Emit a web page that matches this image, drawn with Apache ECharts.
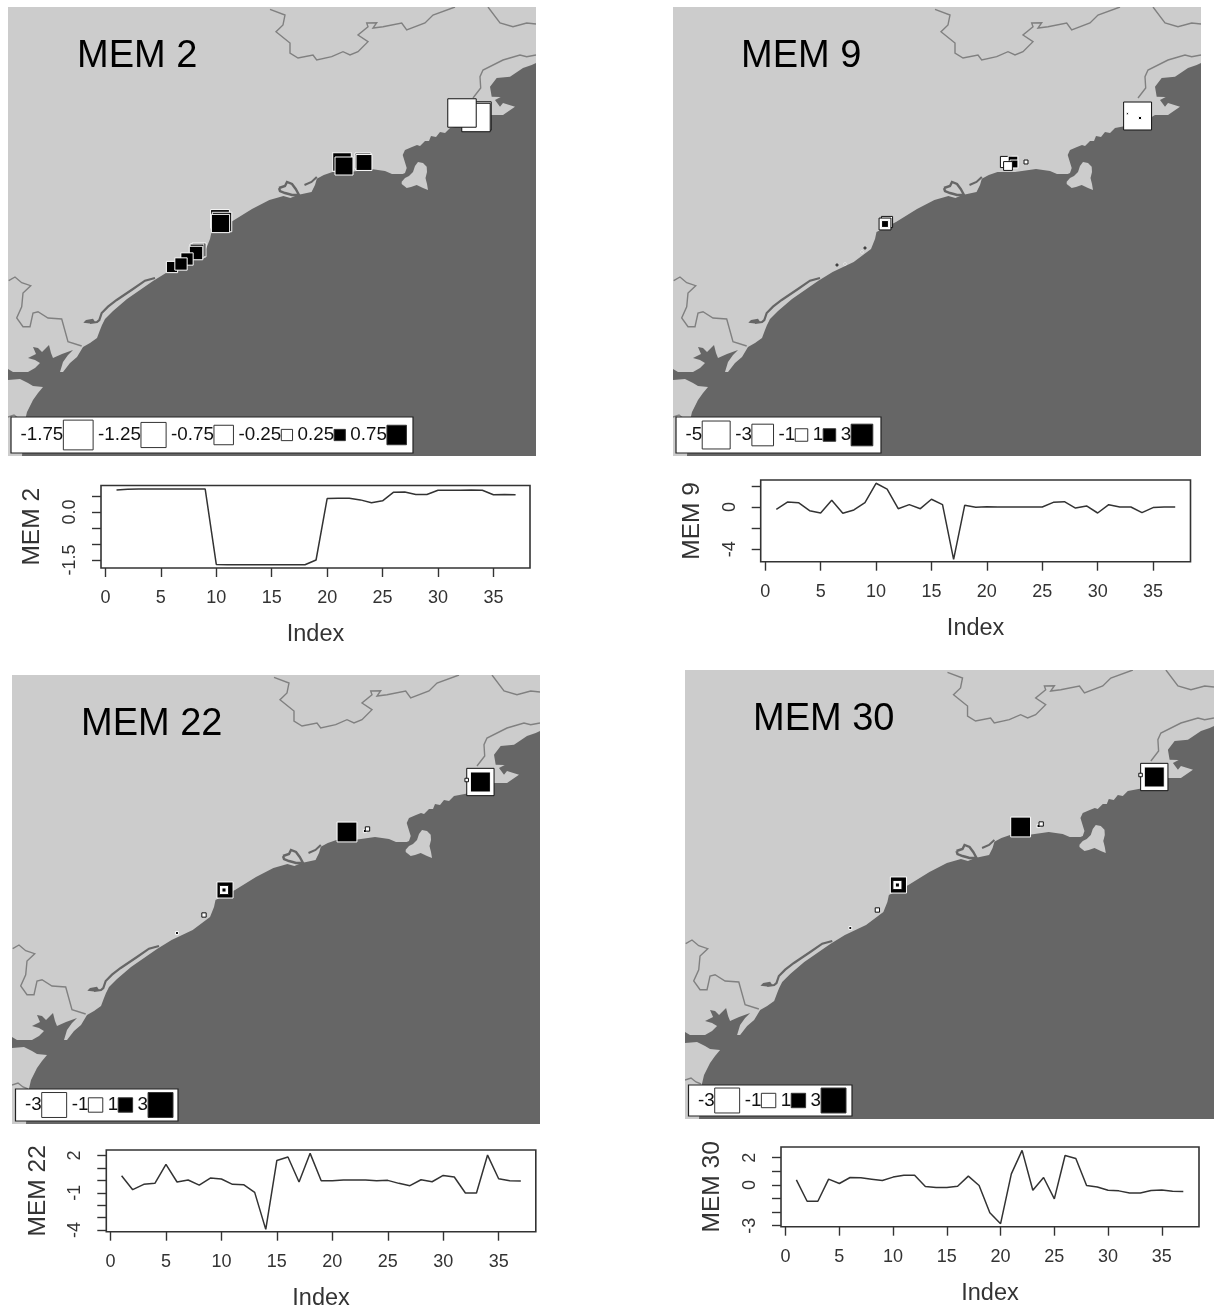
<!DOCTYPE html>
<html>
<head>
<meta charset="utf-8">
<title>MEM maps</title>
<style>html,body{margin:0;padding:0;background:#fff}#chart{width:1215px;height:1308px;filter:blur(0.4px)}</style>
<script src="https://cdn.jsdelivr.net/npm/echarts@6/dist/echarts.min.js"></script>
</head>
<body>
<div id="chart"></div>
<script>
// ---------- series ----------
const indexValues = [1,2,3,4,5,6,7,8,9,10,11,12,13,14,15,16,17,18,19,20,21,22,23,24,25,26,27,28,29,30,31,32,33,34,35,36,37];
const mem2Values = [0.69,0.71,0.72,0.72,0.72,0.72,0.72,0.72,0.72,-1.64,-1.65,-1.65,-1.65,-1.65,-1.65,-1.65,-1.65,-1.65,-1.5,0.42,0.43,0.43,0.38,0.29,0.35,0.62,0.63,0.55,0.55,0.68,0.68,0.68,0.69,0.68,0.54,0.55,0.54];
const mem9Values = [-0.22,0.47,0.41,-0.35,-0.57,0.63,-0.6,-0.28,0.41,2.25,1.7,-0.16,0.22,-0.16,0.73,0.22,-4.97,0.16,-0.03,0.03,0,0,0,0,0,0.44,0.5,-0.1,0.1,-0.57,0.22,0,0,-0.54,-0.06,0,0];
const mem22Values = [0.38,-0.75,-0.32,-0.24,1.29,-0.13,0.03,-0.38,0.19,0.11,-0.32,-0.35,-0.97,-3.95,1.61,1.88,-0.13,2.18,-0.03,-0.03,0.03,0.03,0.03,-0.03,0,-0.24,-0.43,0.05,-0.11,0.4,0.27,-1.02,-1.02,2.04,0.13,-0.03,-0.05];
const mem30Values = [0.37,-1.2,-1.2,0.42,0.1,0.54,0.52,0.42,0.32,0.57,0.71,0.71,-0.12,-0.2,-0.2,-0.1,0.64,-0.05,-2.04,-2.85,0.81,2.53,-0.39,0.54,-1.03,2.16,1.94,-0.05,-0.15,-0.39,-0.44,-0.59,-0.59,-0.42,-0.37,-0.47,-0.49];

// ---------- tick labels ----------
const xTicks = [0,5,10,15,20,25,30,35];
const mem2YTicks = [-1.5,-1,-0.5,0,0.5];
const mem2YLabels = [-1.5,0];
const mem9YTicks = [-4,-2,0,2];
const mem9YLabels = [-4,0];
const mem22YTicks = [-4,-3,-2,-1,0,1,2];
const mem22YLabels = [-4,-1,2];
const mem30YTicks = [-3,-2,-1,0,1,2];
const mem30YLabels = [-3,0,2];

// ---------- legend values ----------
const mem2Legend = [-1.75,-1.25,-0.75,-0.25,0.25,0.75];
const mem9Legend = [-5,-3,-1,1,3];
const mem22Legend = [-3,-1,1,3];
const mem30Legend = [-3,-1,1,3];

// ---------- site values on the map: [x, y, value] in map units ----------
const mem2Sites = [[477,116,-1.6],[476,117.5,-1.6],[462,113,-1.6],[342,162,0.68],[344,166,0.64],[363,161,0.5],[364,162.5,0.5],[220,219,0.7],[222,222,0.75],[220.5,223.5,0.66],[199,250,0.38],[197,251,0.38],[196,253,0.36],[187,259,0.3],[172,267,0.25],[181,264,0.3]];
const mem9Sites = [[472.6,116,-5],[475,118,0.06],[462.4,113.7,0.03],[341,162,-0.8],[348,161,0.6],[349,164,0.4],[343,166,-0.5],[361,162,-0.1],[222,222,-0.8],[220,224,-0.9],[220,224,0.3],[200,248,-0.02],[197,252,0.02],[180,264,0.02],[172,265,-0.02]];
const mem22Sites = [[476.4,114,-3.6],[476.4,114,1.93],[462.7,112,-0.06],[343,164,1.9],[361,163,0.05],[363.5,161,-0.09],[221,222,1.25],[220,222,-0.4],[220,222,0.08],[200,247,-0.09],[173,265,0.04]];
const mem30Sites = [[476.4,114,-3.6],[476.4,114,1.93],[462.7,112,-0.06],[343,164,1.9],[361,163,0.05],[363.5,161,-0.09],[221,222,1.25],[220,222,-0.4],[220,222,0.08],[200,247,-0.09],[173,265,0.04]];

// ---------- map outlines in map units ----------
const seaOutline = [[22,456],[24,425],[27,412],[33,400],[38,393],[43,387],[33,386],[28,383],[20,379],[8,380],[8,369],[13,372],[20,372],[28,372],[35,368],[40,363],[35,360],[28,358],[36,354],[33,347],[38,348],[42,352],[47,347],[49,345],[51,353],[53,358],[62,354],[73,350],[68,355],[63,362],[60,372],[63,372],[70,363],[77,357],[83,347],[90,343],[97,338],[100,330],[102,325],[105,319],[113,311],[127,299],[140,290],[153,281],[167.6,272],[188.7,262],[206,249],[210,239],[211.5,232],[231,222],[252,209],[269.4,200],[283.4,196],[290.4,198],[297.5,195],[311.5,192],[315,185],[316.8,178.7],[323.8,175],[332.5,172],[350,172],[371,169],[385,171],[392,174],[402.7,174],[405,173],[406.7,168],[402.7,155],[405,150],[412,147],[417,145],[420,146],[425,141],[429,141],[431,136],[436,137],[440,132],[445,133],[450,128],[476.7,123],[490,115],[503,115],[515,106.7],[503,103],[500,106.7],[495,100],[500.7,97],[491.7,96.7],[490,86.7],[496.7,78],[510,76.7],[523,68],[531.7,65],[536,63],[536,456]];
const berreIsland = [[401.7,181.7],[405,178],[409,176],[413,172],[415,166],[418,162],[423,163],[426.7,166.7],[427,172],[425.5,178],[427,184],[428,190],[423,188],[416.7,185],[411,187],[406.7,188],[401.7,184]];
const lagoonHead = [[83.3,322.7],[86,320],[93,318.7],[95,321.7],[90,323.5]];
const lagoonStrip = [[90,323],[97,322],[99.3,320],[101.7,313],[108,306.7],[116.7,300],[133,289],[145,280.7],[155,278]];
const lakeRing = [[279,188],[285,186],[287,182],[292,184],[295.7,189],[299,195],[292,195],[288.7,194],[285,193],[280,191],[279,188]];
const deltaArm = [[304.5,185],[311.5,182],[316.8,177]];
const borderNorth = [[270,9.3],[285,15],[283,25],[276,31.7],[290,43],[290,53],[298,58],[313,55],[316.7,60],[331.7,56.7],[343,51.7],[350,55],[358,51.7],[368,41.7],[358,35],[368,26.7],[366.7,23],[376.7,22.7],[373,28],[383,26.7],[401.7,23],[406.7,30],[425,23],[433,15],[455,7]];
const borderNorthEast = [[488,7],[500,23],[513,26.7],[526.7,23],[536,24]];
const borderEast = [[536,55],[526.7,56.7],[520,55],[503,60],[483,70],[480,76.7],[480.7,88],[473,98]];
const borderWest = [[8.7,280.7],[15,277],[21.7,282.7],[30.7,285.7],[23,293],[21.7,306.7],[16.7,318],[23,326.7],[30,326.7],[33,313],[38,311.7],[48,318],[61.7,319],[68,341.7],[81.7,346]];
const borderSouthWest = [[8,417],[14,415],[19,419],[24,421]];

const LAND = '#cccccc', SEA = '#666666', EDGE = '#808080', INK = '#333333';
const FONT = '"Liberation Sans", Arial, sans-serif';

const mapFill = [
  {pts: seaOutline, fill: SEA},
  {pts: berreIsland, fill: LAND},
  {pts: lagoonHead, fill: SEA}
];
const mapStroke = [
  {pts: lagoonStrip, color: SEA, w: 2.2},
  {pts: lakeRing, color: SEA, w: 2.4},
  {pts: deltaArm, color: SEA, w: 2},
  {pts: borderNorth, color: EDGE, w: 1.4},
  {pts: borderNorthEast, color: EDGE, w: 1.4},
  {pts: borderEast, color: EDGE, w: 1.4},
  {pts: borderWest, color: EDGE, w: 1.4},
  {pts: borderSouthWest, color: EDGE, w: 1.4}
];
const mapShapes = mapFill.concat(mapStroke);

const panels = [
  {name:'MEM 2', values:mem2Values, yTicks:mem2YTicks, yLabels:mem2YLabels, sites:mem2Sites, legend:mem2Legend, k:22.5,
   map:[8,7,528,449], box:[101,485.5,429,82.5], xr:[-0.4,38.3], yr:[-1.75,0.83], fmt:v=>v.toFixed(1),
   title:[77,53], legBox:[11,417,402,36]},
  {name:'MEM 9', values:mem9Values, yTicks:mem9YTicks, yLabels:mem9YLabels, sites:mem9Sites, legend:mem9Legend, k:12.5,
   map:[673,7,528,449], box:[760.7,480,429.8,81.7], xr:[-0.41,38.38], yr:[-5.19,2.56], fmt:v=>String(v),
   title:[741,53], legBox:[676,417,205,36]},
  {name:'MEM 22', values:mem22Values, yTicks:mem22YTicks, yLabels:mem22YLabels, sites:mem22Sites, legend:mem22Legend, k:14.4,
   map:[12,675,528,449], box:[106.3,1150,429.5,81.7], xr:[-0.38,38.35], yr:[-4.14,2.45], fmt:v=>String(v),
   title:[81,721], legBox:[15.5,1089,162.5,32]},
  {name:'MEM 30', values:mem30Values, yTicks:mem30YTicks, yLabels:mem30YLabels, sites:mem30Sites, legend:mem30Legend, k:14.4,
   map:[685,670,529,449], box:[781,1147,418,79.7], xr:[-0.43,38.46], yr:[-3.07,2.78], fmt:v=>String(v),
   title:[753,716], legBox:[688.5,1085,163.5,31]}
];

function coordsOf(api, pts){ return pts.map(p => api.coord(p)); }
function renderMapShape(params, api){
  const s = mapShapes[params.dataIndex];
  if (s.fill) return {type:'polygon', shape:{points:coordsOf(api,s.pts)}, style:{fill:s.fill, stroke:null}};
  return {type:'polyline', shape:{points:coordsOf(api,s.pts)}, style:{fill:null, stroke:s.color, lineWidth:s.w}};
}

const charWidth = c => c==='-' ? 0.333 : c==='.' ? 0.278 : 0.556;
const textWidth = (t,fs) => t.split('').reduce((a,c)=>a+charWidth(c)*fs,0);

const grid=[], xAxis=[], yAxis=[], series=[], graphic=[];
panels.forEach((p,i)=>{
  const mapIdx=i*2, lineIdx=i*2+1;
  grid.push({left:p.map[0],top:p.map[1],width:p.map[2],height:p.map[3],show:true,backgroundColor:LAND,borderWidth:0,outerBoundsMode:'none'});
  grid.push({left:p.box[0],top:p.box[1],width:p.box[2],height:p.box[3],show:true,backgroundColor:'#fff',borderColor:INK,borderWidth:1.6,outerBoundsMode:'none'});
  xAxis.push({type:'value',gridIndex:mapIdx,min:8,max:536,show:false});
  yAxis.push({type:'value',gridIndex:mapIdx,min:7,max:456,inverse:true,show:false});
  xAxis.push({type:'value',gridIndex:lineIdx,min:p.xr[0],max:p.xr[1],splitLine:{show:false},
    axisLine:{show:false,onZero:false},
    axisTick:{show:true,length:9,customValues:xTicks,lineStyle:{color:INK,width:1.4}},
    axisLabel:{show:true,customValues:xTicks,margin:21,fontSize:18,fontFamily:FONT,color:INK,formatter:v=>String(v)},
    name:'Index',nameLocation:'middle',nameGap:55,nameTextStyle:{fontSize:23.5,fontFamily:FONT,color:INK}});
  yAxis.push({type:'value',gridIndex:lineIdx,min:p.yr[0],max:p.yr[1],splitLine:{show:false},
    axisLine:{show:false,onZero:false},
    axisTick:{show:true,length:9,customValues:p.yTicks,lineStyle:{color:INK,width:1.4}},
    axisLabel:{show:true,customValues:p.yLabels,rotate:90,margin:22,fontSize:18,fontFamily:FONT,color:INK,formatter:p.fmt},
    name:p.name,nameLocation:'middle',nameGap:56,nameRotate:90,nameTextStyle:{fontSize:24.5,fontFamily:FONT,color:INK}});

  series.push({type:'custom',xAxisIndex:mapIdx,yAxisIndex:mapIdx,coordinateSystem:'cartesian2d',silent:true,clip:true,
    data:mapShapes.map(()=>[8,7]),encode:{x:0,y:1},renderItem:renderMapShape,z:1,animation:false});
  series.push({type:'scatter',xAxisIndex:mapIdx,yAxisIndex:mapIdx,symbol:'rect',silent:true,z:2,animation:false,
    symbolSize:v=>p.k*Math.sqrt(Math.abs(v[2])),
    data:p.sites.map(s=>({value:s,itemStyle:{color:s[2]>0?'#000':'#fff',borderColor:s[2]>0?'#fff':'#111',borderWidth:1,opacity:1}}))});
  series.push({type:'line',xAxisIndex:lineIdx,yAxisIndex:lineIdx,showSymbol:false,symbol:'none',silent:true,animation:false,
    lineStyle:{color:INK,width:1.5},data:indexValues.map((x,j)=>[x,p.values[j]])});

  // panel title
  graphic.push({type:'text',left:p.title[0],top:p.title[1]-15,z:50,silent:true,
    style:{text:p.name,font:'38px '+FONT,fill:'#000',textVerticalAlign:'top'}});

  // legend box, sizes follow the same square-root scale as the sites
  const b=p.legBox, fs=18.8, mid=b[1]+b[3]/2;
  graphic.push({type:'rect',z:60,silent:true,shape:{x:b[0],y:b[1],width:b[2],height:b[3]},style:{fill:'#fff',stroke:'#222',lineWidth:1.2}});
  let cx=b[0]+9.5;
  p.legend.forEach(v=>{
    const t=String(v===0.25||v===-0.25||v===0.75||v===-0.75?v.toFixed(2):v), tw=textWidth(t,fs);
    const side=p.k*Math.sqrt(Math.abs(v));
    graphic.push({type:'text',z:61,silent:true,x:cx,y:mid,style:{text:t,font:fs+'px '+FONT,fill:'#111',textVerticalAlign:'middle',textAlign:'left'}});
    cx+=tw;
    graphic.push({type:'rect',z:61,silent:true,shape:{x:cx,y:mid-side/2,width:side,height:side},
      style:{fill:v>0?'#000':'#fff',stroke:'#333',lineWidth:1}});
    cx+=side+5;
  });
});

const chart = echarts.init(document.getElementById('chart'),null,{renderer:'canvas',width:1215,height:1308});
chart.setOption({backgroundColor:'#fff',animation:false,tooltip:{show:false},grid,xAxis,yAxis,series,graphic});
</script>
</body>
</html>
